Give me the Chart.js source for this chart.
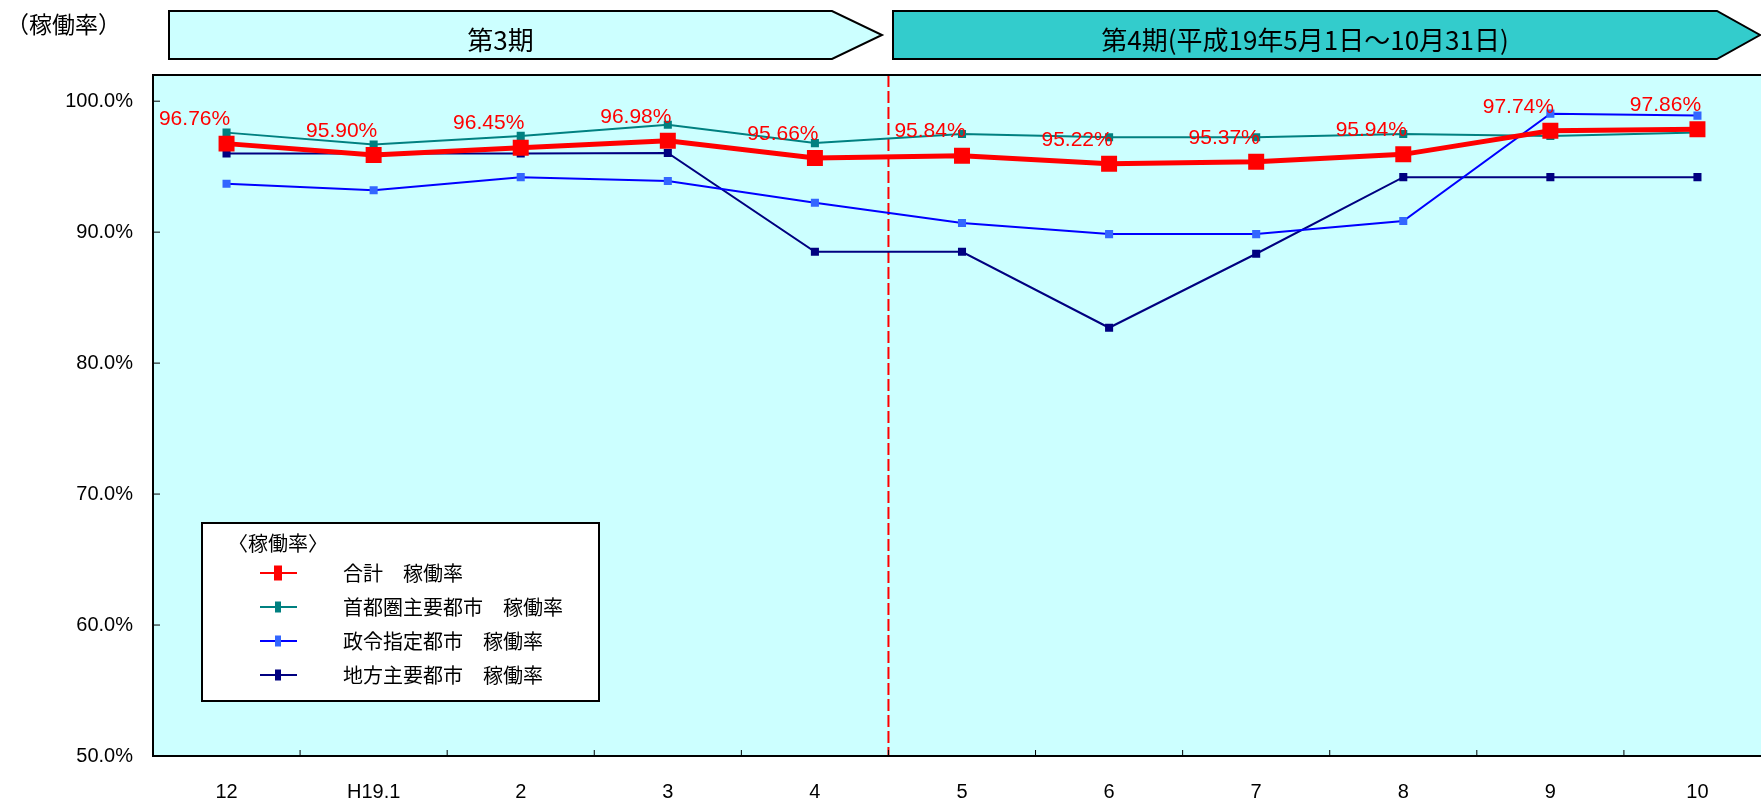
<!DOCTYPE html>
<html lang="ja">
<head>
<meta charset="utf-8">
<title>稼働率</title>
<script src="https://cdn.jsdelivr.net/npm/chart.js@4.4.1/dist/chart.umd.min.js"></script>
<style>
  html, body { margin: 0; padding: 0; background: #fff; overflow: hidden; }
  #contenedor { position: relative; width: 1771px; height: 799px; }
  #grafica { position: absolute; left: 0; top: 0; }
</style>
</head>
<body>
<div id="contenedor"><canvas id="grafica" width="1771" height="799"></canvas></div>
<script>
// Datos
const meses = ['12', 'H19.1', '2', '3', '4', '5', '6', '7', '8', '9', '10'];
const total = [96.76, 95.90, 96.45, 96.98, 95.66, 95.84, 95.22, 95.37, 95.94, 97.74, 97.86];
const shutoken = [97.6, 96.7, 97.35, 98.2, 96.8, 97.5, 97.25, 97.25, 97.5, 97.35, 97.6];
const seirei = [93.7, 93.2, 94.2, 93.9, 92.25, 90.7, 89.85, 89.85, 90.85, 99.05, 98.9];
const chiho = [96.0, 96.0, 96.0, 96.05, 88.5, 88.5, 82.7, 88.35, 94.2, 94.2, 94.2];
const marcasY = [50, 60, 70, 80, 90, 100];
const nombres = ['合計　稼働率', '首都圏主要都市　稼働率', '政令指定都市　稼働率', '地方主要都市　稼働率'];
const periodos = ['第3期', '第4期(平成19年5月1日～10月31日)'];
const inicioPeriodo4 = '5';

const FUENTE_NUM = '"Liberation Sans", Arial, sans-serif';
const FUENTE_JP = '"Noto Sans CJK JP", sans-serif';

document.addEventListener('DOMContentLoaded', () => {
  const ctx = document.getElementById('grafica').getContext('2d');

  // Fondo del área de trazado
  const fondo = {
    id: 'fondo',
    beforeDraw(chart) {
      const { ctx, chartArea: a } = chart;
      ctx.save();
      ctx.fillStyle = '#CCFFFF';
      ctx.fillRect(a.left, a.top, a.right - a.left, a.bottom - a.top);
      ctx.restore();
    },
    beforeDatasetsDraw(chart) {
      // línea discontinua entre 4 y 5
      const { ctx, chartArea: a, scales } = chart;
      const x = scales.x.getPixelForValue(meses.indexOf(inicioPeriodo4) - 0.5);
      ctx.save();
      ctx.strokeStyle = '#FF0000';
      ctx.lineWidth = 2;
      ctx.setLineDash([12, 4]);
      ctx.beginPath();
      ctx.moveTo(x, a.top);
      ctx.lineTo(x, a.bottom);
      ctx.stroke();
      ctx.restore();
    }
  };

  function flecha(c, x0, x1, punta, y0, y1, relleno, texto) {
    c.beginPath();
    c.moveTo(x0, y0);
    c.lineTo(x1, y0);
    c.lineTo(punta, (y0 + y1) / 2);
    c.lineTo(x1, y1);
    c.lineTo(x0, y1);
    c.closePath();
    c.fillStyle = relleno;
    c.fill();
    c.lineWidth = 2;
    c.strokeStyle = '#000';
    c.stroke();
    c.fillStyle = '#000';
    c.font = '26px ' + FUENTE_JP;
    c.textAlign = 'center';
    c.textBaseline = 'middle';
    c.fillText(texto, (x0 + x1) / 2, (y0 + y1) / 2 + 5);
  }

  const decoracion = {
    id: 'decoracion',
    afterDatasetsDraw(chart) {
      const { ctx, chartArea: a, scales } = chart;
      ctx.save();

      // etiquetas del total
      const meta = chart.getDatasetMeta(0);
      ctx.font = '21px ' + FUENTE_NUM;
      ctx.fillStyle = '#FF0000';
      ctx.textAlign = 'center';
      ctx.textBaseline = 'middle';
      meta.data.forEach((p, i) => {
        ctx.fillText(total[i].toFixed(2) + '%', p.x - 32, p.y - 24);
      });

      // bordes y marcas interiores
      ctx.strokeStyle = '#000';
      ctx.lineWidth = 2;
      ctx.beginPath();
      ctx.moveTo(a.right, a.top);
      ctx.lineTo(a.left, a.top);
      ctx.lineTo(a.left, a.bottom);
      ctx.lineTo(a.right, a.bottom);
      ctx.stroke();
      ctx.lineWidth = 1;
      ctx.beginPath();
      marcasY.forEach(v => {
        const y = scales.y.getPixelForValue(v);
        ctx.moveTo(a.left, y);
        ctx.lineTo(a.left + 7, y);
      });
      for (let i = 0; i < meses.length; i++) {
        const x = scales.x.getPixelForValue(i + 0.5);
        ctx.moveTo(x, a.bottom);
        ctx.lineTo(x, a.bottom - 6);
      }
      ctx.stroke();

      // leyenda
      ctx.fillStyle = '#fff';
      ctx.fillRect(202, 523, 397, 178);
      ctx.lineWidth = 2;
      ctx.strokeRect(202, 523, 397, 178);
      ctx.fillStyle = '#000';
      ctx.font = '20px ' + FUENTE_JP;
      ctx.textAlign = 'left';
      ctx.fillText('〈稼働率〉', 228, 543);
      chart.data.datasets.forEach((ds, i) => {
        const y = 573 + i * 34;
        ctx.strokeStyle = ds.borderColor;
        ctx.lineWidth = 2;
        ctx.beginPath();
        ctx.moveTo(260, y);
        ctx.lineTo(297, y);
        ctx.stroke();
        ctx.fillStyle = ds.pointBackgroundColor;
        const w = i === 0 ? 8 : 6, h = i === 0 ? 15 : 11;
        ctx.fillRect(278 - w / 2, y - h / 2, w, h);
        ctx.fillStyle = '#000';
        ctx.fillText(ds.label, 343, y);
      });
      ctx.restore();
    },
    afterDraw(chart) {
      const { ctx } = chart;
      ctx.save();
      flecha(ctx, 169, 832, 882, 11, 59, '#CCFFFF', periodos[0]);
      flecha(ctx, 893, 1717, 1760, 11, 59, '#33CCCC', periodos[1]);
      ctx.fillStyle = '#000';
      ctx.font = '23px ' + FUENTE_JP;
      ctx.textAlign = 'left';
      ctx.textBaseline = 'middle';
      ctx.fillText('（稼働率）', 6, 24);
      ctx.restore();
    }
  };

  window.miGrafica = new Chart(ctx, {
    type: 'line',
    data: {
      labels: meses,
      datasets: [
        {
          label: nombres[0], data: total,
          borderColor: '#FF0000', borderWidth: 5,
          pointStyle: 'rect', pointRadius: 11.3, pointBorderWidth: 0,
          pointBackgroundColor: '#FF0000'
        },
        {
          label: nombres[1], data: shutoken,
          borderColor: '#008080', borderWidth: 2,
          pointStyle: 'rect', pointRadius: 5.7, pointBorderWidth: 0,
          pointBackgroundColor: '#008080'
        },
        {
          label: nombres[2], data: seirei,
          borderColor: '#0000FF', borderWidth: 2,
          pointStyle: 'rect', pointRadius: 5.7, pointBorderWidth: 0,
          pointBackgroundColor: '#3366FF'
        },
        {
          label: nombres[3], data: chiho,
          borderColor: '#000080', borderWidth: 2,
          pointStyle: 'rect', pointRadius: 5.7, pointBorderWidth: 0,
          pointBackgroundColor: '#000080'
        }
      ]
    },
    options: {
      responsive: false,
      animation: false,
      devicePixelRatio: 1,
      // el área de trazado sigue más allá del borde derecho de la imagen
      layout: { autoPadding: false, padding: { top: 75, left: 0, right: 0, bottom: 0 } },
      elements: { line: { tension: 0 } },
      plugins: {
        legend: { display: false },
        tooltip: { enabled: false }
      },
      scales: {
        x: {
          offset: true,
          grid: { display: false, drawTicks: false },
          border: { display: false },
          ticks: {
            color: '#000', padding: 24, autoSkip: false, maxRotation: 0,
            font: { family: FUENTE_NUM, size: 20 }
          },
          afterFit(scale) {
            scale.height = 43;
            scale.paddingLeft = 0;
            scale.paddingRight = 0;
          }
        },
        y: {
          min: 50, max: 102,
          grid: { display: false, drawTicks: false },
          border: { display: false },
          afterBuildTicks(scale) { scale.ticks = marcasY.map(v => ({ value: v })); },
          ticks: {
            color: '#000', padding: 20,
            font: { family: FUENTE_NUM, size: 20 },
            callback: v => v.toFixed(1) + '%'
          },
          afterFit(scale) { scale.width = 153; }
        }
      }
    },
    plugins: [fondo, decoracion]
  });
});
</script>
</body>
</html>
